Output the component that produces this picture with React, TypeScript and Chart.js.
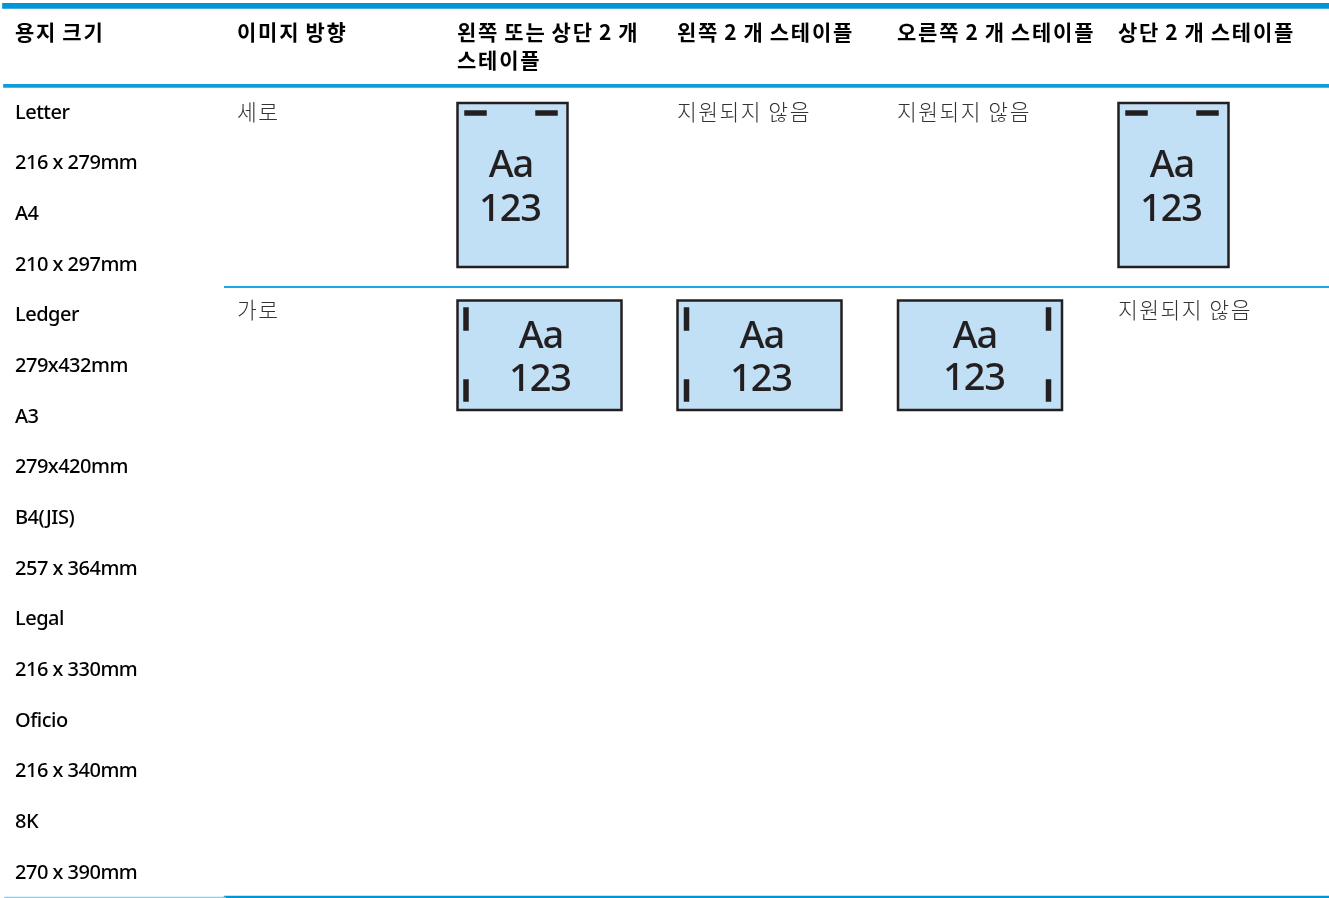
import React, { useEffect, useRef } from "react";
import { Chart, registerables } from "chart.js";

Chart.register(...registerables);

const WIDTH = 1329;
const HEIGHT = 898;

const LATIN = '"Noto Sans", "Noto Sans CJK KR", sans-serif';
const HEAD = '700 21px "Noto Sans CJK KR", "Noto Sans", sans-serif';
const THIN = '300 21.5px "Noto Sans CJK KR", sans-serif';
const INK = "#231f20";
const PAPER = "#c2e0f5";

// [x, baseline y, text]
const headerTexts: [number, number, string][] = [
  [15, 40, "용지 크기"],
  [237, 40, "이미지 방향"],
  [457, 40, "왼쪽 또는 상단 2 개"],
  [457, 68, "스테이플"],
  [677, 40, "왼쪽 2 개 스테이플"],
  [897, 40, "오른쪽 2 개 스테이플"],
  [1118, 40, "상단 2 개 스테이플"],
];

const paperSizes = [
  "Letter", "216 x 279mm", "A4", "210 x 297mm", "Ledger", "279x432mm", "A3", "279x420mm",
  "B4(JIS)", "257 x 364mm", "Legal", "216 x 330mm", "Oficio", "216 x 340mm", "8K", "270 x 390mm",
];
const paperBaselines = [119, 169, 220, 271, 321, 372, 423, 473, 524, 575, 625, 676, 727, 777, 828, 879];

const bodyTexts: [number, number, string][] = [
  [237, 120, "세로"],
  [237, 318, "가로"],
  [677, 120, "지원되지 않음"],
  [897, 120, "지원되지 않음"],
  [1118, 318, "지원되지 않음"],
];

// [x1, y, x2, colour, width]
const rules: [number, number, number, string, number][] = [
  [5, 5.9, 1329, "#0096d6", 5.7],
  [5, 85.9, 1329, "#0f9cda", 3.7],
  [225, 286.9, 1329, "#1ba9e0", 2],
  [5, 897.5, 225, "#8ecae6", 1.5],
  [225, 897, 1329, "#0096d6", 2.5],
];

// [left, top, right, bottom]
const papers: [number, number, number, number][] = [
  [457.5, 103, 567.5, 267],
  [1118.5, 103, 1228.5, 267],
  [457.5, 300.5, 621.5, 410],
  [677.5, 300.5, 841.5, 410],
  [898, 300.5, 1062, 410],
];

// [x1, y1, x2, y2]
const staples: [number, number, number, number][] = [
  [467, 113, 484, 113],
  [538, 113, 555, 113],
  [1128, 113, 1145, 113],
  [1199, 113, 1216, 113],
  [466, 310, 466, 328],
  [466, 382, 466, 399],
  [686.5, 310, 686.5, 328],
  [686.5, 382, 686.5, 399],
  [1048.5, 310, 1048.5, 328],
  [1048.5, 382, 1048.5, 399],
];

// [centre x, baseline of Aa, baseline of 123]
const paperLabels: [number, number, number][] = [
  [511, 177, 221],
  [1172, 177, 221],
  [541, 348, 391],
  [762, 348, 391],
  [975, 348, 390],
];

const tablePlugin = {
  id: "tableText",
  afterDatasetsDraw(chart: any) {
    const { ctx, scales } = chart;
    const X = (v: number) => scales.x.getPixelForValue(v);
    const Y = (v: number) => scales.y.getPixelForValue(v);
    ctx.save();
    ctx.textBaseline = "alphabetic";
    ctx.textAlign = "left";
    ctx.fillStyle = "#000";
    ctx.font = HEAD;
    ctx.letterSpacing = "1.8px";
    ctx.wordSpacing = "-1.5px";
    headerTexts.forEach(([x, y, t]) => ctx.fillText(t, X(x), Y(y)));
    ctx.wordSpacing = "0px";
    ctx.font = `500 20px ${LATIN}`;
    ctx.letterSpacing = "-0.5px";
    paperSizes.forEach((t, i) => ctx.fillText(t, X(15), Y(paperBaselines[i])));
    ctx.fillStyle = "#333";
    ctx.font = THIN;
    ctx.letterSpacing = "1.5px";
    bodyTexts.forEach(([x, y, t]) => ctx.fillText(t, X(x), Y(y)));
    ctx.fillStyle = INK;
    ctx.textAlign = "center";
    ctx.font = `500 38px ${LATIN}`;
    ctx.letterSpacing = "-1px";
    paperLabels.forEach(([x, y1, y2]) => {
      ctx.fillText("Aa", X(x), Y(y1));
      ctx.fillText("123", X(x - 1), Y(y2));
    });
    ctx.restore();
  },
};

export default function App() {
  const ref = useRef<HTMLCanvasElement>(null);
  useEffect(() => {
    document.body.style.margin = "0";
    document.body.style.background = "#fff";
    // Chart.js paints the last dataset first, so the paper fills come last.
    const datasets: any[] = [
      ...rules.map(([x1, y, x2, color, w]) => ({
        data: [{ x: x1, y }, { x: x2, y }],
        showLine: true,
        borderColor: color,
        borderWidth: w,
        pointRadius: 0,
      })),
      ...staples.map(([x1, y1, x2, y2]) => ({
        data: [{ x: x1, y: y1 }, { x: x2, y: y2 }],
        showLine: true,
        borderColor: INK,
        borderWidth: 5.5,
        pointRadius: 0,
      })),
      ...papers.map(([l, t, r, b]) => ({
        data: [{ x: l, y: t }, { x: r, y: t }, { x: r, y: b }, { x: l, y: b }, { x: l, y: t }],
        showLine: true,
        borderColor: INK,
        borderWidth: 2.5,
        pointRadius: 0,
        tension: 0,
      })),
      ...papers.map(([l, t, r, b]) => ({
        data: [{ x: l, y: t }, { x: r, y: t }],
        showLine: true,
        fill: { value: b },
        backgroundColor: PAPER,
        borderColor: PAPER,
        borderWidth: 0,
        pointRadius: 0,
      })),
    ];
    const chart = new Chart(ref.current!, {
      type: "scatter",
      data: { datasets },
      plugins: [tablePlugin],
      options: {
        animation: false,
        responsive: false,
        layout: { padding: 0 },
        plugins: { legend: { display: false }, tooltip: { enabled: false }, title: { display: false } },
        elements: { line: { borderCapStyle: "square", borderJoinStyle: "miter" } },
        scales: {
          x: { type: "linear", display: false, min: 0, max: WIDTH },
          y: { type: "linear", display: false, min: 0, max: HEIGHT, reverse: true },
        },
      },
    } as any);
    return () => chart.destroy();
  }, []);
  return <canvas ref={ref} width={WIDTH} height={HEIGHT} style={{ display: "block" }} />;
}
